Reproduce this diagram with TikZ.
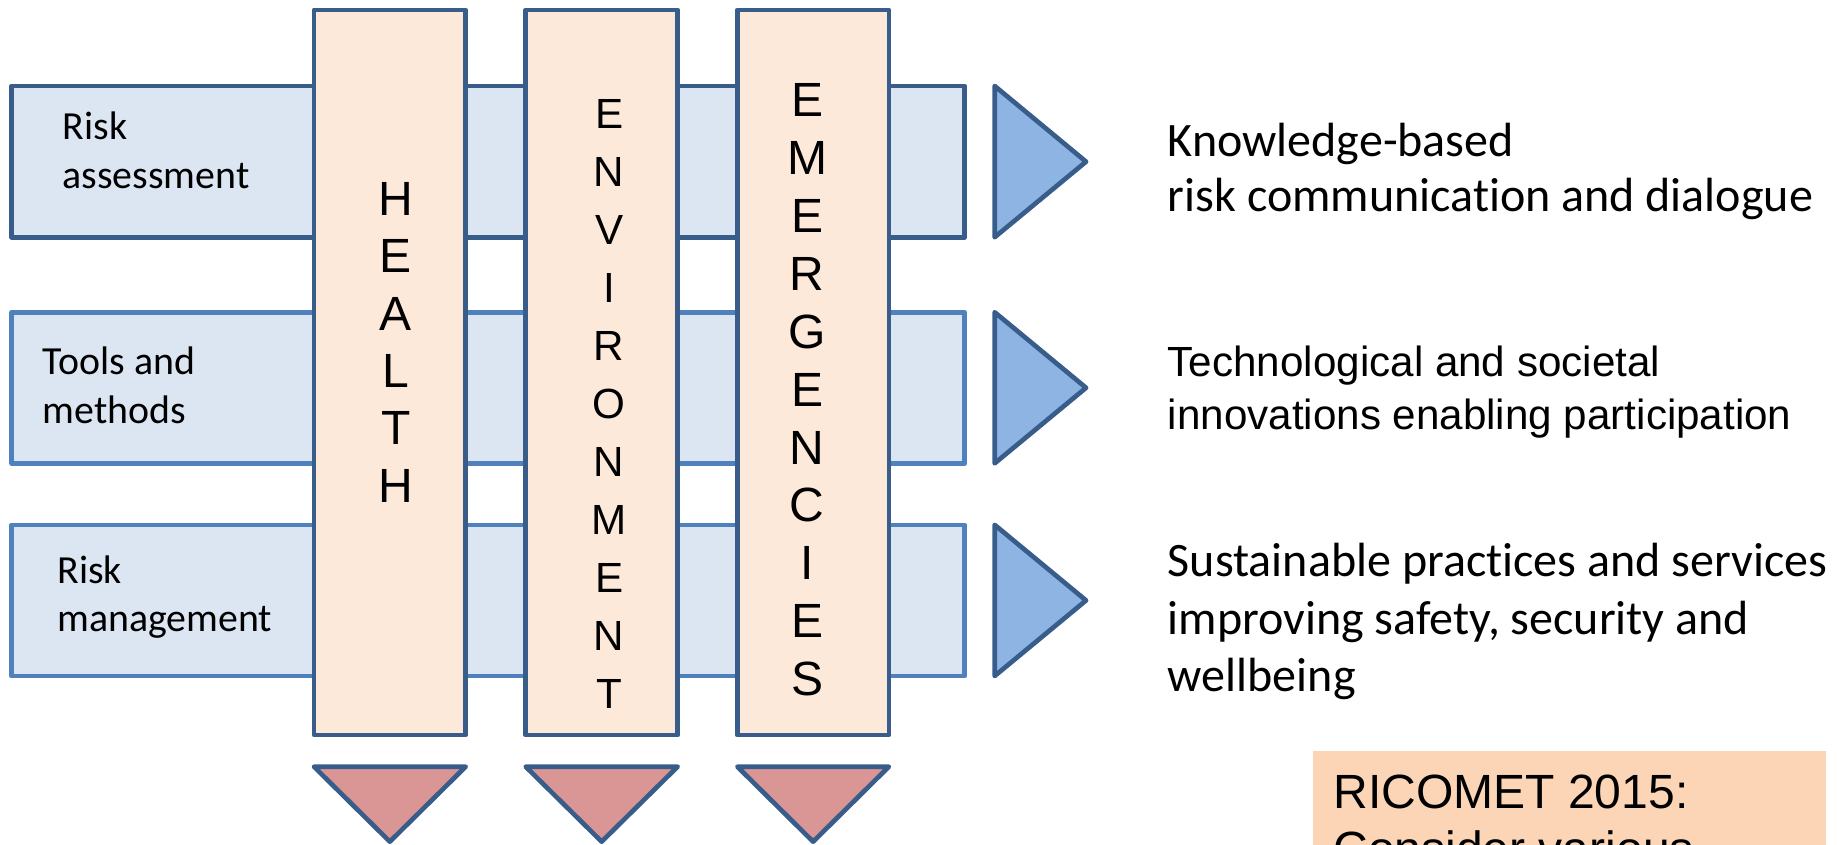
\documentclass[tikz,border=0pt]{standalone}
\usepackage{fontspec}
\setmainfont{Carlito}[Ligatures=NoCommon]
\newfontfamily\arialf{Liberation Sans}
\definecolor{barfill}{HTML}{DCE6F2}
\definecolor{darkline}{HTML}{385D8A}
\definecolor{lightline}{HTML}{4F81BD}
\definecolor{colfill}{HTML}{FDE9D9}
\definecolor{rtrifill}{HTML}{8EB4E3}
\definecolor{dtrifill}{HTML}{D99694}
\definecolor{notefill}{HTML}{FBD5B5}
\tikzset{
  barA/.style={fill=barfill, draw=darkline, line width=4bp, line join=round},
  barB/.style={fill=barfill, draw=lightline, line width=4bp, line join=round},
  colbox/.style={fill=colfill, draw=darkline, line width=4bp, line join=round},
  rtri/.style={fill=rtrifill, draw=darkline, line width=4bp, line join=round},
  dtri/.style={fill=dtrifill, draw=darkline, line width=4bp, line join=round},
  lettbig/.style={inner sep=0pt, anchor=base, font=\arialf\fontsize{41bp}{41bp}\selectfont},
  lettsmall/.style={inner sep=0pt, anchor=base, font=\arialf\fontsize{36bp}{36bp}\selectfont},
  leftlab/.style={inner sep=0pt, anchor=base west, font=\fontsize{34bp}{34bp}\selectfont},
  rightlab/.style={inner sep=0pt, anchor=base west, font=\fontsize{41bp}{41bp}\selectfont},
  rightlabA/.style={inner sep=0pt, anchor=base west, font=\arialf\fontsize{36bp}{36bp}\selectfont},
  notelab/.style={inner sep=0pt, anchor=base west, font=\arialf\fontsize{41bp}{41bp}\selectfont}
}
\begin{document}
\begin{tikzpicture}[x=1bp,y=-1bp]
\useasboundingbox (0,0) rectangle (1568,721);
% horizontal bars
\filldraw[barA] (10,73.4) rectangle (823.5,202.5);
\filldraw[barB] (10,266.5) rectangle (823.5,395.5);
\filldraw[barB] (10,448) rectangle (823.5,577);
% vertical columns
\filldraw[colbox] (268,8.5) rectangle (397.5,627.4);
\filldraw[colbox] (448.7,8.5) rectangle (578.4,627.4);
\filldraw[colbox] (629.4,8.5) rectangle (758.7,627.4);
% right triangles
\filldraw[rtri] (849,73.4) -- (927,138) -- (849,202.5) -- cycle;
\filldraw[rtri] (849,266.5) -- (927,331) -- (849,395.5) -- cycle;
\filldraw[rtri] (849,448) -- (927,512.5) -- (849,577) -- cycle;
% down triangles
\filldraw[dtri] (268,654.4) -- (397.5,654.4) -- (332.75,718.4) -- cycle;
\filldraw[dtri] (448.7,654.4) -- (578.4,654.4) -- (513.55,718.4) -- cycle;
\filldraw[dtri] (629.4,654.4) -- (758.7,654.4) -- (694.05,718.4) -- cycle;
% column letters
\foreach \l [count=\i from 0] in {H,E,A,L,T,H}
  \node[lettbig] (health\i) at (338,{184+48.9*\i}) {\l};
\foreach \l [count=\i from 0] in {E,N,V,I,R,O,N,M,E,N,T}
  \node[lettsmall] (env\i) at (520,{109.5+49.5*\i}) {\l};
\foreach \l [count=\i from 0] in {E,M,E,R,G,E,N,C,I,E,S}
  \node[lettbig] (emerg\i) at (689,{99.7+49.4*\i}) {\l};
% left labels
\node[leftlab] (ra1) at (53.3,119) {Risk};
\node[leftlab] (ra2) at (53.3,160.7) {assessment};
\node[leftlab] (tm1) at (36.4,320) {Tools and};
\node[leftlab] (tm2) at (36.4,361.7) {methods};
\node[leftlab] (rm1) at (48.9,497.9) {Risk};
\node[leftlab] (rm2) at (48.9,539.2) {management};
% right labels
\node[rightlab] (k1) at (996.6,133.2) {Knowledge-based};
\node[rightlab] (k2) at (996.6,180.7) {risk communication and dialogue};
\node[rightlabA] (t1) at (996.6,321.5) {Technological and societal};
\node[rightlabA] (t2) at (996.6,367) {innovations enabling participation};
\node[rightlab] (s1) at (996.6,492) {Sustainable practices and services};
\node[rightlab] (s2) at (996.6,542) {improving safety, security and};
\node[rightlab] (s3) at (996.6,590.4) {wellbeing};
% note box (cut by the page edge, as in the reference)
\begin{scope}
\clip (0,0) rectangle (1568,721);
\fill[notefill] (1120.4,641) rectangle (1558.5,760);
\node[notelab] (n1) at (1138,690.5) {RICOMET 2015:};
\node[notelab] (n2) at (1138,738.9) {Consider various};
\end{scope}
\end{tikzpicture}
\end{document}
